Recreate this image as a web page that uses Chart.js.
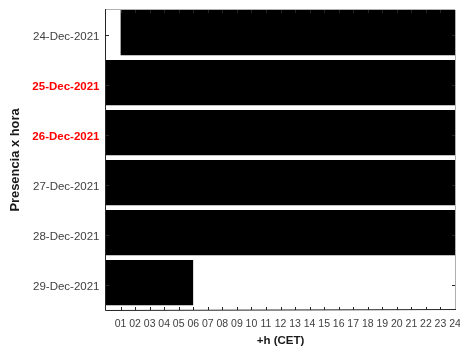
<!DOCTYPE html>
<html>
<head>
<meta charset="utf-8">
<script src="https://cdn.jsdelivr.net/npm/chart.js@4"></script>
<style>
  html, body { margin: 0; padding: 0; background: #ffffff; }
  #wrap { width: 460px; height: 349px; }
</style>
</head>
<body>
<div id="wrap"><canvas id="c" width="460" height="349"></canvas></div>
<script>
// ---- data ----
const days = ['24-Dec-2021', '25-Dec-2021', '26-Dec-2021', '27-Dec-2021', '28-Dec-2021', '29-Dec-2021'];
const startHours = [1, 0, 0, 0, 0, 0];
const endHours = [24, 24, 24, 24, 24, 6];
const highlighted = [false, true, true, false, false, false];
const hourLabels = ['01','02','03','04','05','06','07','08','09','10','11','12',
                    '13','14','15','16','17','18','19','20','21','22','23','24'];
const xTitle = '+h (CET)';
const yTitle = 'Presencia x hora';

const FONT = "'Liberation Sans', Arial, Helvetica, sans-serif";

const axesBox = {
  id: 'axesBox',
  afterDatasetsDraw(chart) {
    const { ctx, chartArea: a, scales: { x, y } } = chart;
    ctx.save();
    // inward tick marks
    ctx.strokeStyle = '#262626';
    ctx.lineWidth = 1;
    ctx.beginPath();
    x.ticks.forEach(t => {
      if (t.value <= 0) return;
      const px = Math.round(x.getPixelForValue(t.value)) + 0.5;
      ctx.moveTo(px, a.bottom); ctx.lineTo(px, a.bottom - 3);
      ctx.moveTo(px, a.top); ctx.lineTo(px, a.top + 3);
    });
    days.forEach((d, i) => {
      const py = Math.round(y.getPixelForValue(i)) + 0.5;
      ctx.moveTo(a.left, py); ctx.lineTo(a.left + 3, py);
      ctx.moveTo(a.right, py); ctx.lineTo(a.right - 3, py);
    });
    ctx.stroke();
    // top/right lighter edges
    ctx.strokeStyle = '#b0b0b0';
    ctx.beginPath();
    ctx.moveTo(a.left, Math.round(a.top) - 0.5); ctx.lineTo(a.right, Math.round(a.top) - 0.5);
    ctx.moveTo(Math.round(a.right) + 0.5, a.top); ctx.lineTo(Math.round(a.right) + 0.5, a.bottom);
    ctx.stroke();
    // left/bottom dark edges
    ctx.strokeStyle = '#262626';
    ctx.beginPath();
    ctx.moveTo(Math.round(a.left) - 0.5, a.top - 1); ctx.lineTo(Math.round(a.left) - 0.5, a.bottom + 0.5);
    ctx.lineTo(a.right + 1, Math.round(a.bottom) - 0.5);
    ctx.stroke();
    ctx.restore();
  }
};

new Chart(document.getElementById('c'), {
  type: 'bar',
  data: {
    labels: days,
    datasets: [{
      data: days.map((d, i) => [startHours[i], endHours[i]]),
      backgroundColor: '#000000',
      borderColor: '#ffffff',
      borderWidth: { top: 0, right: 0, bottom: 5, left: 0 },
      borderSkipped: false,
      barPercentage: 1,
      categoryPercentage: 1
    }]
  },
  options: {
    indexAxis: 'y',
    responsive: false,
    animation: false,
    events: [],
    layout: { padding: { top: 10, right: 5, left: 0, bottom: 0 } },
    plugins: { legend: { display: false }, tooltip: { enabled: false } },
    scales: {
      x: {
        type: 'linear',
        min: 0, max: 24,
        grid: { display: false, drawTicks: false },
        border: { display: false },
        afterFit: s => { s.height = 39; s.paddingLeft = 0; s.paddingRight = 0; },
        ticks: {
          stepSize: 1,
          autoSkip: false,
          maxRotation: 0,
          padding: 7.5,
          color: '#404040',
          font: { family: FONT, size: 10.5 },
          callback: v => (v >= 1 && v <= 24 ? hourLabels[v - 1] : '')
        },
        title: {
          display: true, text: xTitle, color: '#1a1a1a',
          font: { family: FONT, size: 11.5, weight: 'bold' },
          padding: { top: 0, bottom: 1.5 }
        }
      },
      y: {
        type: 'category',
        offset: true,
        grid: { display: false, drawTicks: false },
        border: { display: false },
        afterFit: s => { s.width = 106; s.paddingTop = 0; s.paddingBottom = 0; },
        ticks: {
          padding: 6.5,
          labelOffset: 1.5,
          color: c => (highlighted[c.index] ? '#ff0000' : '#404040'),
          font: c => ({ family: FONT, size: 11.5, weight: highlighted[c.index] ? 'bold' : 'normal' })
        },
        title: {
          display: true, text: yTitle, color: '#1a1a1a',
          font: { family: FONT, size: 12.9, weight: 'bold' },
          padding: { top: 8, bottom: 0 }
        }
      }
    }
  },
  plugins: [axesBox]
});
</script>
</body>
</html>
